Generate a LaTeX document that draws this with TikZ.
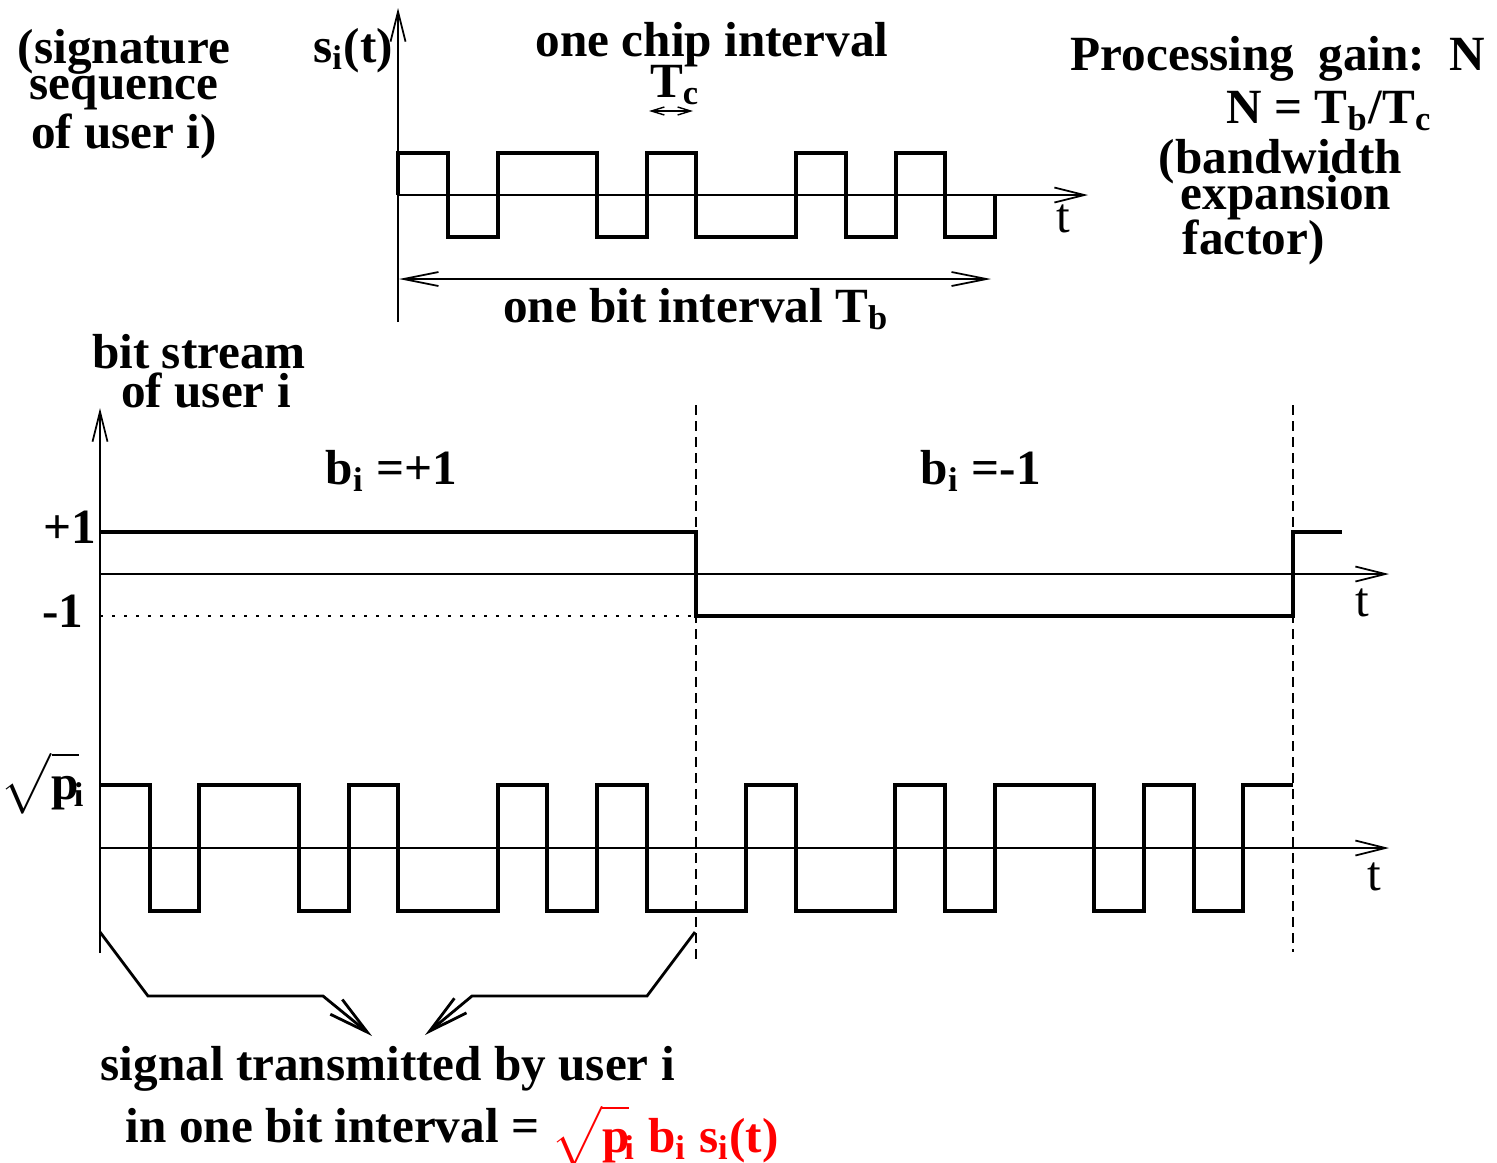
\documentclass[tikz,border=0pt]{standalone}
\usepackage{amsmath}
\usepackage{fontspec}
\setmainfont{Liberation Serif}
\usetikzlibrary{arrows.meta}
\newcommand{\idx}[1]{$_{\text{#1}}$}
\newcommand{\rootp}{$\sqrt{\vphantom{(}\text{p}}$}
\setlength{\lineskiplimit}{-100pt}

\begin{document}
\begin{tikzpicture}[
    x=0.1mm, y=-0.1mm,
    every node/.style={font=\bfseries\fontsize{14}{11.5}\selectfont, inner sep=0pt},
    axis/.style={line width=0.5pt, -{Straight Barb[length=3mm,width=1.5mm]}},
    signal/.style={line width=1.15pt},
    bound/.style={line width=0.55pt, dash pattern=on 1mm off 0.6mm},
    brace/.style={line width=0.8pt, -{Straight Barb[length=4mm,width=1.9mm]}},
    tlabel/.style={font=\mdseries\fontsize{14}{11.5}\selectfont}
]
\useasboundingbox (0,0) rectangle (1497,1162);

% signature sequence s_i(t)
\draw[axis] (398,322) -- (398,8);
\draw[axis] (398,195) -- (1088,195);
\draw[signal] (398,195) |- (448,153) |- (498,237) |- (597,153) |- (647,237)
    |- (696,153) |- (796,237) |- (846,153) |- (896,237) |- (945,153)
    |- (995,237) -- (995,195);
\draw[line width=0.4pt, {Straight Barb[length=1.3mm,width=0.8mm]}-{Straight Barb[length=1.3mm,width=0.8mm]}]
    (649,111) -- (693,111);
\draw[line width=0.5pt, {Straight Barb[length=3.5mm,width=1.4mm]}-{Straight Barb[length=3.5mm,width=1.4mm]}]
    (399,279) -- (991,279);

\node[anchor=base] (siglabel) at (353,62) {s\idx{i}(t)};
\node[anchor=base] (chiplabel) at (712,56) {one chip interval};
\node[anchor=base] (tclabel) at (675,97) {T\idx{c}};
\node[tlabel, anchor=base] (ttop) at (1063,232) {t};
\node[anchor=base] (bitlabel) at (696,322) {one bit interval T\idx{b}};
\node[anchor=base, align=center] (sigseq) at (124,148)
    {(signature\\[-0.4mm]sequence\\[0.8mm]of user i)};

% processing gain
\node[anchor=base west] (gain) at (1070,70) {Processing\ \ gain:\ \ N};
\node[anchor=base west] (ratio) at (1226,123) {N = T\idx{b}/T\idx{c}};
\node[anchor=base west, align=left] (bandw) at (1158,254)
    {(bandwidth\\[-0.4mm]\hspace*{2.2mm}expansion\\[0.4mm]\hspace*{2.4mm}factor)};

% bit stream b_i
\node[anchor=base, align=center] (stream) at (199,407) {bit stream\\[-0.2mm]\hspace*{1.4mm}of user i};
\draw[axis] (100,953) -- (100,408);
\draw[axis] (100,574) -- (1389,574);
\draw[line width=0.5pt, dash pattern=on 0.3mm off 0.9mm] (100,616) -- (696,616);
\draw[signal] (100,532) -- (696,532) |- (1293,616) |- (1342,532);
\node[anchor=base] (plusone) at (70,543) {+1};
\node[anchor=base] (minusone) at (63,627) {-1};
\node[tlabel, anchor=base] (tmid) at (1362,616) {t};
\node[anchor=base west] (bplus) at (325,484) {b\idx{i} =+1};
\node[anchor=base west] (bminus) at (920,484) {b\idx{i} =-1};

% bit boundaries
\draw[bound] (696,405) -- (696,960);
\draw[bound] (1293,405) -- (1293,952);

% transmitted signal
\draw[axis] (100,848) -- (1389,848);
\draw[signal] (100,785) -- (150,785) |- (199,911) |- (299,785) |- (349,911)
    |- (398,785) |- (498,911) |- (547,785) |- (597,911) |- (647,785)
    |- (746,911) |- (796,785) |- (895,911) |- (945,785) |- (995,911)
    |- (1094,785) |- (1144,911) |- (1194,785) |- (1243,911) |- (1293,785);
\node[anchor=base east] (amp) at (86,799) {\rootp\kern-0.5mm\idx{i}};
\node[tlabel, anchor=base] (tbot) at (1374,890) {t};

% one bit interval
\coordinate (bitbeg) at (100,932);
\coordinate (bitend) at (695,932);
\node[anchor=base west] (sent) at (100,1080) {signal transmitted by user i};
\node[anchor=base west] (formula) at (125,1142)
    {in one bit interval = {\color{red}\raisebox{-1mm}{\rootp\kern-0.5mm\idx{i} b\idx{i} s\idx{i}(t)}}};
\draw[brace] (bitbeg) -- (148,996) -- (323,996) -- (372,1036);
\draw[brace] (bitend) -- (647,996) -- (472,996) -- (425,1035);

\end{tikzpicture}
\end{document}
